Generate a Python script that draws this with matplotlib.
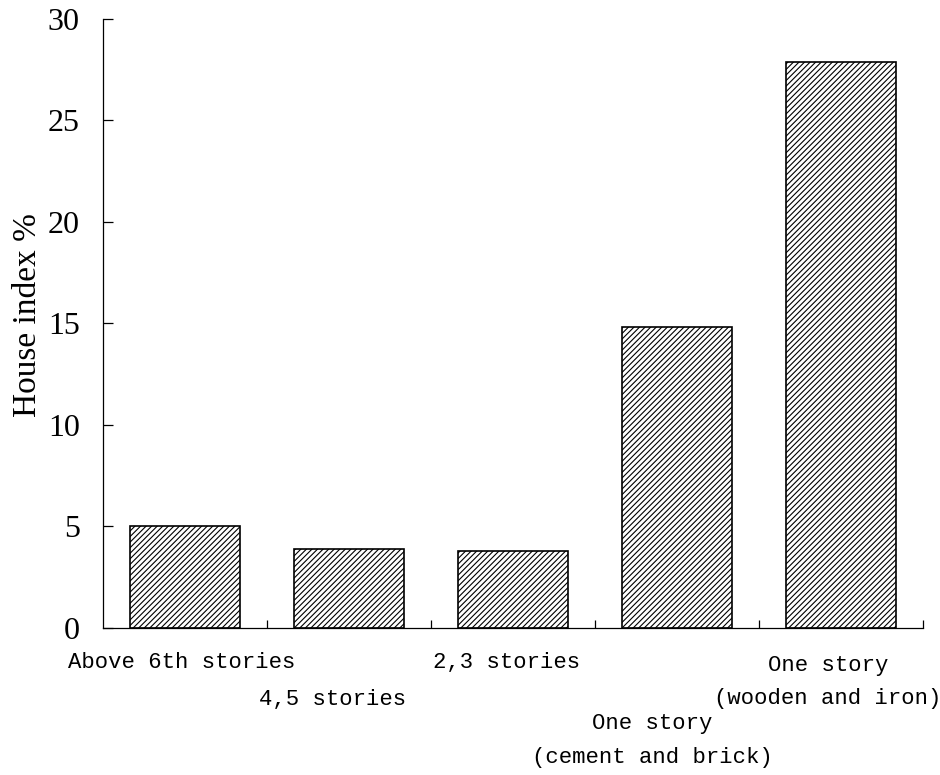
import numpy as np
import matplotlib
matplotlib.use("Agg")
import matplotlib.pyplot as plt

# data
categories = ["Above 6th stories", "4,5 stories", "2,3 stories",
              "One story\n(cement and brick)", "One story\n(wooden and iron)"]
house_index = [5.0, 3.9, 3.8, 14.8, 27.9]
y_ticks = [0, 5, 10, 15, 20, 25, 30]

# where the staggered category labels sit (figure y, x nudge in data units)
label_y = [0.145, 0.098, 0.145, 0.045, 0.120]
label_dx = [-0.02, -0.10, -0.04, -0.15, -0.08]

plt.rcParams['hatch.linewidth'] = 0.8
plt.rcParams['hatch.color'] = 'black'

fig = plt.figure(figsize=(9.4, 7.75), dpi=100)
ax = fig.add_axes([0.110, 0.19, 0.872, 0.7855])

x = np.arange(len(house_index)) + 0.5
ax.bar(x, house_index, width=0.67, facecolor='white', edgecolor='black',
       linewidth=1.2, hatch='//////')

ax.set_xlim(0, 5)
ax.set_ylim(0, 30)
ax.spines['top'].set_visible(False)
ax.spines['right'].set_visible(False)
ax.spines['left'].set_linewidth(0.9)
ax.spines['bottom'].set_linewidth(0.9)

ax.set_yticks(y_ticks)
ax.set_yticklabels([str(v) for v in y_ticks], fontfamily='Liberation Serif', fontsize=23)
ax.tick_params(axis='y', direction='in', length=7, width=0.9, pad=17)
ax.set_xticks([1, 2, 3, 4, 5])
ax.set_xticklabels([])
ax.tick_params(axis='x', direction='in', length=6, width=0.9)

for i, lab in enumerate(categories):
    xf = fig.transFigure.inverted().transform(
        ax.transData.transform((x[i] + label_dx[i], 0)))[0]
    fig.text(xf, label_y[i], lab, ha='center', va='center', multialignment='center',
             fontfamily='Liberation Mono', fontsize=16, linespacing=1.8)

fig.text(0.030, 0.593, "House index %", rotation=90, ha='center', va='center',
         fontfamily='Liberation Serif', fontsize=24)

fig.savefig("out.png", dpi=100, facecolor='white')
